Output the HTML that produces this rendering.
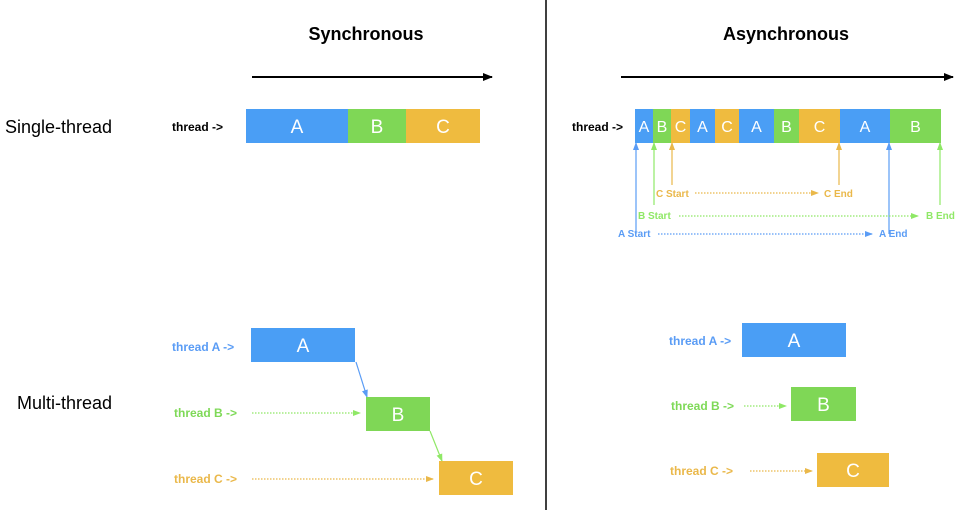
<!DOCTYPE html>
<html><head><meta charset="utf-8"><style>
html,body{margin:0;padding:0;background:#fff;}
svg{display:block;font-family:"Liberation Sans",Arial,sans-serif;}
</style></head><body>
<svg id="s" width="960" height="510" viewBox="0 0 960 510">
<defs>
<marker id="ak" markerWidth="10" markerHeight="10" refX="9" refY="5" orient="auto" markerUnits="userSpaceOnUse"><path d="M0,1 L10,5 L0,9 z" fill="#000"/></marker>
<marker id="ab" markerWidth="8" markerHeight="8" refX="7" refY="4" orient="auto" markerUnits="userSpaceOnUse"><path d="M0,1 L8,4 L0,7 z" fill="#5a9cf5"/></marker>
<marker id="ag" markerWidth="8" markerHeight="8" refX="7" refY="4" orient="auto" markerUnits="userSpaceOnUse"><path d="M0,1 L8,4 L0,7 z" fill="#8fe866"/></marker>
<marker id="ao" markerWidth="8" markerHeight="8" refX="7" refY="4" orient="auto" markerUnits="userSpaceOnUse"><path d="M0,1 L8,4 L0,7 z" fill="#eab84a"/></marker>
</defs>
<line x1="546" y1="0" x2="546" y2="510" stroke="#000" stroke-width="1.5"/>
<text x="366" y="40" text-anchor="middle" font-size="18" font-weight="bold">Synchronous</text>
<text x="786" y="40" text-anchor="middle" font-size="18" font-weight="bold">Asynchronous</text>
<line x1="252" y1="77" x2="492" y2="77" stroke="#000" stroke-width="2" marker-end="url(#ak)"/>
<line x1="621" y1="77" x2="953" y2="77" stroke="#000" stroke-width="2" marker-end="url(#ak)"/>
<text x="5" y="133" font-size="18">Single-thread</text>
<text x="17" y="409" font-size="18">Multi-thread</text>
<text x="172" y="131" font-size="12" font-weight="bold">thread -&gt;</text>
<text x="572" y="131" font-size="12" font-weight="bold">thread -&gt;</text>

<g stroke-width="1.2" fill="none">
<line x1="636" y1="234" x2="636" y2="143" stroke="#5a9cf5" marker-end="url(#ab)"/>
<line x1="654" y1="205" x2="654" y2="143" stroke="#8fe866" marker-end="url(#ag)"/>
<line x1="672" y1="185" x2="672" y2="143" stroke="#eab84a" marker-end="url(#ao)"/>
<line x1="839" y1="185" x2="839" y2="143" stroke="#eab84a" marker-end="url(#ao)"/>
<line x1="889" y1="234" x2="889" y2="143" stroke="#5a9cf5" marker-end="url(#ab)"/>
<line x1="940" y1="205" x2="940" y2="143" stroke="#8fe866" marker-end="url(#ag)"/>
<line x1="695" y1="193" x2="818" y2="193" stroke="#eab84a" stroke-dasharray="1.5,1.5" marker-end="url(#ao)"/>
<line x1="679" y1="216" x2="918" y2="216" stroke="#8fe866" stroke-dasharray="1.5,1.5" marker-end="url(#ag)"/>
<line x1="658" y1="234" x2="872" y2="234" stroke="#5a9cf5" stroke-dasharray="1.5,1.5" marker-end="url(#ab)"/>
<line x1="252" y1="413" x2="360" y2="413" stroke="#8fe866" stroke-dasharray="1.5,1.5" marker-end="url(#ag)"/>
<line x1="252" y1="479" x2="433" y2="479" stroke="#eab84a" stroke-dasharray="1.5,1.5" marker-end="url(#ao)"/>
<line x1="356" y1="362" x2="367" y2="397" stroke="#5a9cf5" marker-end="url(#ab)"/>
<line x1="430" y1="431" x2="442" y2="461" stroke="#8fe866" marker-end="url(#ag)"/>
<line x1="744" y1="406" x2="786" y2="406" stroke="#8fe866" stroke-dasharray="1.5,1.5" marker-end="url(#ag)"/>
<line x1="750" y1="471" x2="812" y2="471" stroke="#eab84a" stroke-dasharray="1.5,1.5" marker-end="url(#ao)"/>
</g>
<g font-size="10" font-weight="bold">
<text x="656" y="197" fill="#eab84a">C Start</text>
<text x="824" y="197" fill="#eab84a">C End</text>
<text x="638" y="219" fill="#8fe866">B Start</text>
<text x="926" y="219" fill="#8fe866">B End</text>
<text x="618" y="237" fill="#5a9cf5">A Start</text>
<text x="879" y="237" fill="#5a9cf5">A End</text>
</g>
<g font-size="12" font-weight="bold">
<text x="172" y="351" fill="#5a9cf5">thread A -&gt;</text>
<text x="174" y="417" fill="#7ed957">thread B -&gt;</text>
<text x="174" y="483" fill="#eab84a">thread C -&gt;</text>
<text x="669" y="345" fill="#5a9cf5">thread A -&gt;</text>
<text x="671" y="410" fill="#7ed957">thread B -&gt;</text>
<text x="670" y="475" fill="#eab84a">thread C -&gt;</text>
</g>
<g id="blocks"></g>
</svg>
<script>
const colors={A:'#4a9ef5',B:'#7fd756',C:'#efbb3f'};
const syncTasks=['A','B','C'];
const syncStarts=[246,348,406];
const syncEnds=[348,406,480];
const asyncTasks=['A','B','C','A','C','A','B','C','A','B'];
const asyncStarts=[635,653,671,690,715,739,774,799,840,890];
const asyncEnds=[653,671,690,715,739,774,799,840,890,941];
const mtTasks=['A','B','C'];
const syncMtX=[251,366,439],syncMtW=[104,64,74],syncMtY=[328,397,461];
const asyncMtX=[742,791,817],asyncMtW=[104,65,72],asyncMtY=[323,387,453];
const g=document.getElementById('blocks');
const NS='http://www.w3.org/2000/svg';
function block(x,y,w,h,t,fs,name){
  const r=document.createElementNS(NS,'rect');
  r.setAttribute('x',x);r.setAttribute('y',y);r.setAttribute('width',w);r.setAttribute('height',h);r.setAttribute('fill',colors[t]);
  
  
  g.appendChild(r);
  const tx=document.createElementNS(NS,'text');
  tx.setAttribute('x',x+w/2);tx.setAttribute('y',y+h/2+fs*0.36);tx.setAttribute('text-anchor','middle');
  tx.setAttribute('fill','#fff');tx.setAttribute('font-size',fs);tx.textContent=t;
  
  
  g.appendChild(tx);
}
syncTasks.forEach((t,i)=>block(syncStarts[i],109,syncEnds[i]-syncStarts[i],34,t,19,'sync-block-'+t.toLowerCase()));
asyncTasks.forEach((t,i)=>block(asyncStarts[i],109,asyncEnds[i]-asyncStarts[i],34,t,16,'async-block-'+t.toLowerCase()));
mtTasks.forEach((t,i)=>block(syncMtX[i],syncMtY[i],syncMtW[i],34,t,19,'sync-thread-block-'+t.toLowerCase()));
mtTasks.forEach((t,i)=>block(asyncMtX[i],asyncMtY[i],asyncMtW[i],34,t,19,'async-thread-block-'+t.toLowerCase()));
</script>
</body></html>
